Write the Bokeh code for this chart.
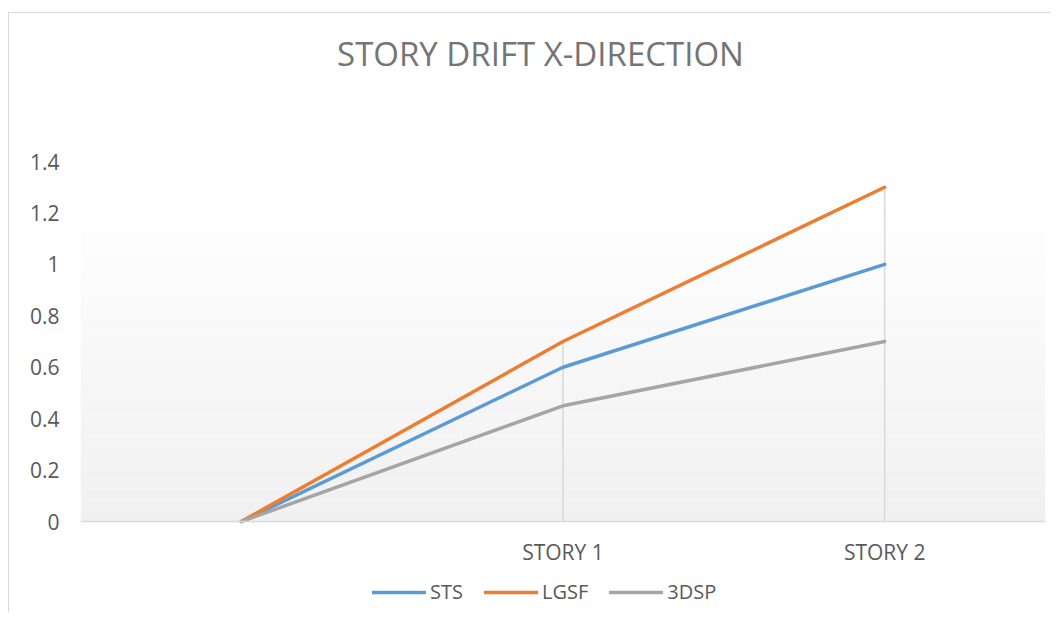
from bokeh.plotting import figure
from bokeh.models import (FactorRange, Range1d, BoxAnnotation, Legend, LegendItem,
                          Label, FixedTicker)
from bokeh.layouts import column
from bokeh.embed import file_html
from bokeh.resources import INLINE

# ---- data ----
categories = [" ", "STORY 1", "STORY 2"]
sts = [0, 0.6, 1.0]
lgsf = [0, 0.7, 1.3]
dsp3 = [0, 0.45, 0.7]
y_ticks = [0, 0.2, 0.4, 0.6, 0.8, 1.0, 1.2, 1.4]
y_tick_labels = {0: "0", 0.2: "0.2", 0.4: "0.4", 0.6: "0.6", 0.8: "0.8", 1.0: "1", 1.2: "1.2", 1.4: "1.4"}
title_text = "STORY DRIFT X-DIRECTION"

FONT = "Open Sans"
TEXT = "#595959"

# layout constants (pixels): value axis 0..1.4 spans 360 px; frame extends above/below
PX_PER_UNIT = 360 / 1.4
FRAME_H = 599
ABOVE_PX = 148   # frame top to 1.4 line
BELOW_PX = FRAME_H - 360 - ABOVE_PX
y_lo = -BELOW_PX / PX_PER_UNIT
y_hi = 1.4 + ABOVE_PX / PX_PER_UNIT

p = figure(x_range=FactorRange(*categories), y_range=Range1d(y_lo, y_hi),
           frame_width=965, frame_height=FRAME_H, output_backend="svg", toolbar_location=None,
           min_border_left=71, min_border_right=5, min_border_top=0, min_border_bottom=0)
p.outline_line_color = None
p.background_fill_color = "white"
p.border_fill_color = "white"
p.xgrid.grid_line_color = None
p.ygrid.grid_line_color = None

# gradient plot-area background (white top -> light gray bottom)
grad_top = 1.245
nb = 30
c0 = (255, 255, 255)
c1 = (240, 240, 240)
for i in range(nb):
    t = (i + 0.5) / nb
    col = tuple(int(round(c0[k] + (c1[k] - c0[k]) * t)) for k in range(3))
    top = grad_top - grad_top * i / nb
    bot = grad_top - grad_top * (i + 1) / nb
    p.add_layout(BoxAnnotation(top=top, bottom=bot, fill_color="#%02x%02x%02x" % col,
                               fill_alpha=1, line_color=None, level="underlay"))

# drop lines from axis up to the highest series value at each story
drop_x = categories[1:]
drop_top = [max(a, b, c) for a, b, c in zip(sts[1:], lgsf[1:], dsp3[1:])]
p.segment(x0=drop_x, y0=[0] * len(drop_x), x1=drop_x, y1=drop_top,
          line_color="#d9d9d9", line_width=1.5)

r1 = p.line(categories, sts, line_color="#5B9BD5", line_width=3.5, line_cap="round", line_join="round")
r2 = p.line(categories, lgsf, line_color="#ED7D31", line_width=3.5, line_cap="round", line_join="round")
r3 = p.line(categories, dsp3, line_color="#A5A5A5", line_width=3.5, line_cap="round", line_join="round")

# title
p.add_layout(Label(x=1.43, y=1.4 + 108 / PX_PER_UNIT, text=title_text, text_align="center",
                   text_baseline="middle", text_font=FONT, text_font_size="33px",
                   text_color="#757575"))

# axes
p.yaxis.ticker = FixedTicker(ticks=y_ticks)
p.yaxis.major_label_overrides = y_tick_labels
p.yaxis.axis_line_color = None
p.yaxis.major_tick_line_color = None
p.yaxis.minor_tick_line_color = None
p.yaxis.major_tick_out = 0
p.yaxis.major_label_standoff = 21
p.yaxis.major_label_text_font = FONT
p.yaxis.major_label_text_font_size = "21px"
p.yaxis.major_label_text_color = TEXT

p.xaxis.fixed_location = 0
p.xaxis.axis_line_color = "#d9d9d9"
p.xaxis.axis_line_width = 1.5
p.xaxis.major_tick_line_color = None
p.xaxis.minor_tick_line_color = None
p.xaxis.major_tick_out = 0
p.xaxis.major_tick_in = 0
p.xaxis.major_label_standoff = 16
p.xaxis.major_label_text_font = FONT
p.xaxis.major_label_text_font_size = "21px"
p.xaxis.major_label_text_color = TEXT

legend = Legend(items=[LegendItem(label="STS", renderers=[r1]),
                       LegendItem(label="LGSF", renderers=[r2]),
                       LegendItem(label="3DSP", renderers=[r3])],
                orientation="horizontal", location=(292, BELOW_PX - 84),
                label_text_font=FONT, label_text_font_size="20px", label_text_color=TEXT,
                glyph_width=54, glyph_height=20, label_standoff=4, spacing=21,
                padding=0, margin=0, border_line_color=None, background_fill_alpha=0)
p.add_layout(legend, "center")

layout = column(p, margin=(12, 0, 0, 8),
                styles={"border-left": "1px solid #d9d9d9", "border-top": "1px solid #d9d9d9"})

open("out.html", "w").write(file_html(layout, INLINE))
